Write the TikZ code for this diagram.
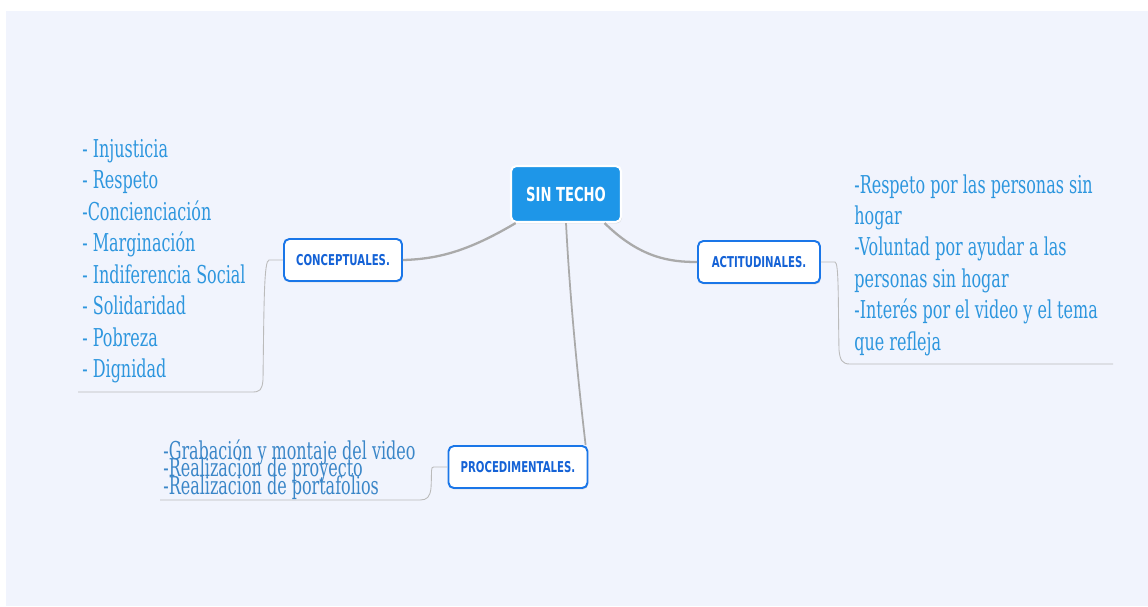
\documentclass[tikz,border=0pt]{standalone}
\usepackage{fontspec}
\setmainfont{DejaVu Serif}[FakeStretch=0.65]
\newfontfamily\boxfont{DejaVu Sans}[FakeStretch=0.68]
\usetikzlibrary{shadows}

\definecolor{fondo}{RGB}{241,244,253}
\definecolor{azulcentro}{RGB}{30,150,232}
\definecolor{azulborde}{RGB}{26,118,232}
\definecolor{azultexto}{RGB}{20,98,214}
\definecolor{azulhoja}{RGB}{45,150,222}
\definecolor{azulhojab}{RGB}{58,134,200}
\definecolor{rama}{RGB}{170,170,170}

\newcommand{\lineasjuntas}{\lineskiplimit=-100pt\relax}

\tikzset{
	centro/.style={rectangle, rounded corners=3pt, fill=azulcentro, draw=white, line width=1.2pt,
		text=white, font=\boxfont\bfseries\fontsize{11}{13}\selectfont,
		minimum width=2.2cm, minimum height=1.12cm,
		drop shadow={opacity=0.25, shadow xshift=0.5pt, shadow yshift=-0.8pt}},
	caja/.style={rectangle, rounded corners=3pt, fill=white, draw=azulborde, line width=1.1pt,
		text=azultexto, font=\boxfont\bfseries\fontsize{8.5}{10}\selectfont,
		minimum height=0.84cm,
		drop shadow={opacity=0.25, shadow xshift=0.4pt, shadow yshift=-0.8pt}},
	hoja/.style={inner sep=0pt, anchor=north west, align=left, text=azulhoja,
		font=\fontsize{14}{17.9}\selectfont},
	rama/.style={draw=rama, line width=1.3pt},
	corchete/.style={draw=rama!80, line width=0.5pt}
}

\begin{document}
\begin{tikzpicture}[x=0.02cm, y=-0.02cm]

		\useasboundingbox (0,0) rectangle (1148,606);
		\fill[fondo] (6,11) rectangle (1148,606);

		% nodos
		\node[centro] (sintecho) at (566,194) {SIN TECHO};
		\node[caja, minimum width=2.36cm] (concept) at (343,260) {CONCEPTUALES.};
		\node[caja, minimum width=2.44cm] (actit) at (759,262) {ACTITUDINALES.};
		\node[caja, minimum width=2.78cm] (proced) at (518,467) {PROCEDIMENTALES.};

		% ramas
		\draw[rama] (sintecho.-150) .. controls (470,250) and (440,259) .. (concept.east);
		\draw[rama] (sintecho.-37) .. controls (640,258) and (670,262) .. (actit.west);
		\draw[rama, line width=1pt] (sintecho.south) .. controls (570,300) and (578,380) .. (proced.18);

		% textos
		\node[hoja] (conctext) at (82,139) {- Injusticia\\- Respeto\\-Concienciación\\- Marginación\\- Indiferencia Social\\- Solidaridad\\- Pobreza\\- Dignidad};
		\node[hoja] (actitext) at (854,174) {-Respeto por las personas sin\\hogar\\-Voluntad por ayudar a las\\personas sin hogar\\-Interés por el video y el tema\\que refleja};
		\node[hoja, text=azulhojab, font=\fontsize{14}{10}\selectfont\lineasjuntas] (proctext) at (163,439) {-Grabación y montaje del video\\-Realizacion de proyecto\\-Realizacion de portafolios};

		% corchetes
		\coordinate (concfin) at (78,392);
		\coordinate (actifin) at (1113,364);
		\coordinate (procfin) at (160,500);
		\draw[corchete] (concept.west) -- ++(-14,0) .. controls ++(-5,0) and (264,300) .. (263,380)
			.. controls (262,390) and (260,392) .. (252,392) -- (concfin);
		\draw[corchete] (actit.east) -- ++(14,0) .. controls ++(4,0) and (838,300) .. (839,350)
			.. controls (840,360) and (842,364) .. (850,364) -- (actifin);
		\draw[corchete] (proced.west) -- ++(-14,0) .. controls ++(-3,0) and (432,470) .. (431,488)
			.. controls (430,497) and (427,500) .. (420,500) -- (procfin);

	\end{tikzpicture}
\end{document}
